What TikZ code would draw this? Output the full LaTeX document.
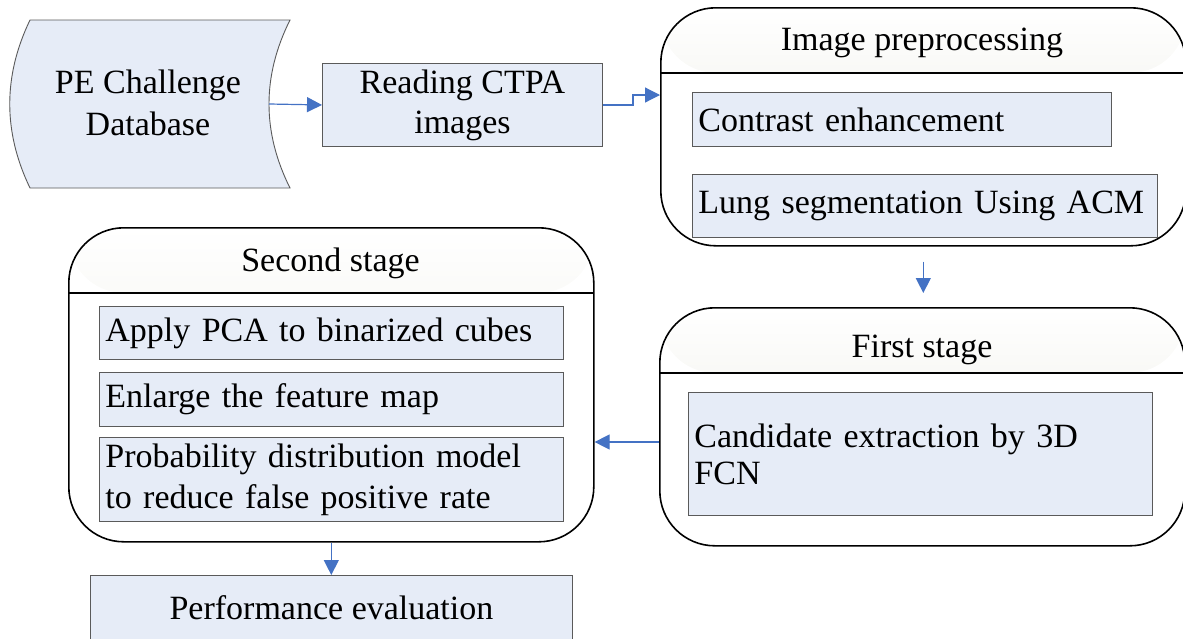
\documentclass[tikz,border=0pt]{standalone}
\usepackage{fontspec}
\setmainfont{Liberation Serif}
\usetikzlibrary{arrows.meta,calc}
\definecolor{boxfill}{HTML}{E6ECF7}
\definecolor{boxline}{HTML}{5A5A5A}
\definecolor{arrowblue}{HTML}{4472C4}
\definecolor{hdr}{HTML}{E8E8DE}
\begin{document}
\begin{tikzpicture}[x=1pt,y=-1pt,
  box/.style={draw=boxline, line width=0.9pt, fill=boxfill, inner sep=6pt, anchor=north west, font=\fontsize{34}{40}\selectfont},
  lbox/.style={box, align=left},
  cont/.style={draw, line width=1.6pt, rounded corners=55pt, inner sep=0pt, anchor=north west, minimum width=525pt,
    path picture={
      \shade[top color=white, bottom color=hdr] (path picture bounding box.north west) rectangle ([yshift=-65pt]path picture bounding box.north east);
      \draw[line width=1.6pt] ([yshift=-65pt]path picture bounding box.north west) -- ([yshift=-65pt]path picture bounding box.north east);
    }},
  title/.style={anchor=base, font=\fontsize{34}{40}\selectfont},
  arr/.style={draw=arrowblue, line width=1.2pt, -{Triangle[length=15pt,width=15pt]}}
]
\useasboundingbox (0,0) rectangle (1183,638);
\clip (0,0) rectangle (1183,638);

% PE Challenge Database shape
\path[draw=boxline, line width=0.9pt, fill=boxfill]
  (30,20) -- (290,20) .. controls (262,76) and (262,132) .. (290,188) -- (30,188) .. controls (3,132) and (3,76) .. (30,20) -- cycle;
\node[align=center, font=\fontsize{34}{42}\selectfont] (pe) at (148,103) {PE Challenge\\Database};
\coordinate (peR) at (269,104);

% Reading CTPA images
\node[box, align=center, minimum width=280pt, minimum height=83pt] (rd) at (322,63) {Reading CTPA\\images};

% Image preprocessing
\node[cont, minimum height=238pt] (ip) at (660,7) {};
\node[title] (ipt) at (922,50) {Image preprocessing};
\node[lbox, text width=407pt, minimum height=54pt] (ce) at (692,92) {Contrast enhancement};
\node[lbox, text width=453pt, minimum height=63pt] (lung) at (692,174) {Lung segmentation Using ACM};

% First stage
\node[cont, minimum height=238pt] (fs) at (659,307) {};
\node[title] (fst) at (922,357) {First stage};
\node[lbox, text width=452pt, minimum height=123pt, font=\fontsize{34}{37}\selectfont] (cand) at (688,392) {Candidate extraction by 3D\\FCN};

% Second stage
\node[cont, minimum height=314pt] (ss) at (68,227) {};
\node[title] (sst) at (330.5,271) {Second stage};
\node[lbox, text width=452pt, minimum height=53pt] (pca) at (99,306) {Apply PCA to binarized cubes};
\node[lbox, text width=452pt, minimum height=54pt] (enl) at (99,372) {Enlarge the feature map};
\node[lbox, text width=452pt, minimum height=78pt, font=\fontsize{34}{41}\selectfont] (prob) at (99,437) {Probability distribution model\\to reduce false positive rate};

% Performance evaluation
\node[box, minimum width=482pt, minimum height=65pt] (perf) at (90,575) {Performance evaluation};

% Connectors
\draw[arr] (peR) -- (rd.west);
\draw[arr] (rd.east) -- ++(30,0) |- ($(ip.north west)+(0,88)$);
\draw[arr, shorten <=15pt, shorten >=14pt] (ip.south) -- (ip.south |- fs.north);
\coordinate (fsA) at ($(fs.north west)+(0,135)$);
\draw[arr] (fsA) -- (fsA -| ss.east);
\draw[arr] (ss.south) -- (ss.south |- perf.north);
\end{tikzpicture}
\end{document}
